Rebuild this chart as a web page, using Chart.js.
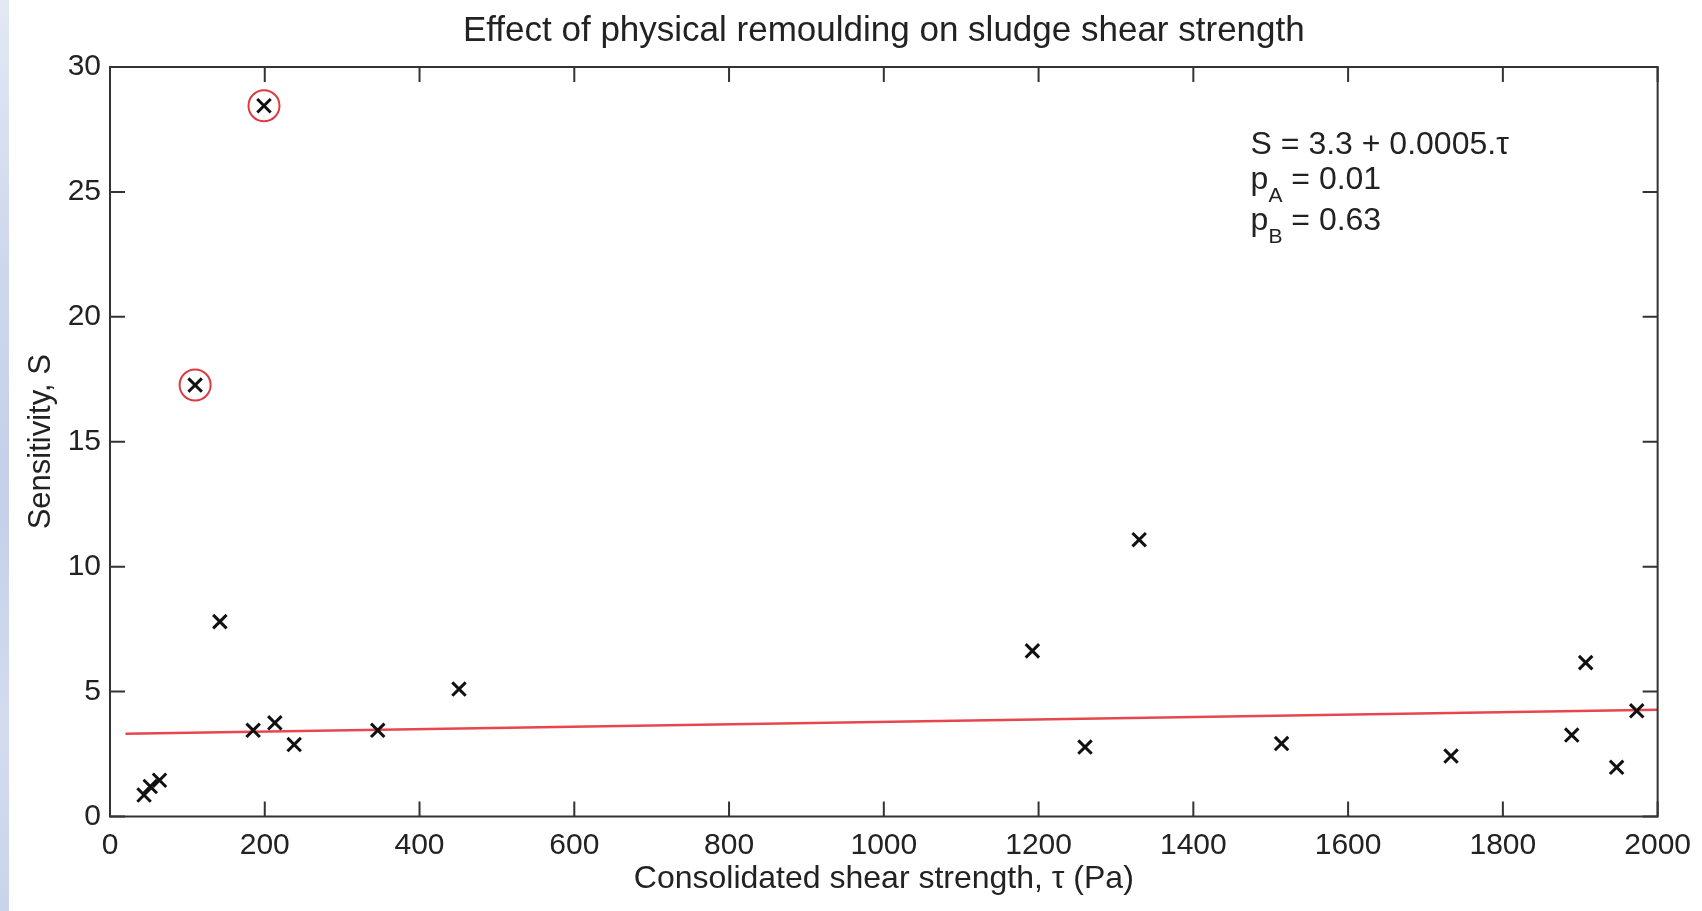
<!DOCTYPE html>
<html>
<head>
<meta charset="utf-8">
<title>Effect of physical remoulding on sludge shear strength</title>
<script src="https://cdn.jsdelivr.net/npm/chart.js@4.4.1/dist/chart.umd.min.js"></script>
<style>
html, body { margin: 0; padding: 0; background: #fff; }
body { width: 1702px; height: 911px; overflow: hidden; position: relative; }
.strip { position: absolute; left: 0; top: 0; width: 9px; height: 911px;
  background: linear-gradient(to bottom, #e2e8f4 0%, #cdd7ec 30%, #c4d0e8 55%, #d3dcef 80%, #c9d4ea 100%); }
.chartBox { position: absolute; left: 0; top: 0; width: 1702px; height: 911px; }
</style>
</head>
<body>
<div class="strip"></div>
<div class="chartBox"><canvas id="GraficoSensibilidade" width="1702" height="911"></canvas></div>
<script>
// pontos medidos (tau em Pa, sensibilidade S)
var tauPontos = [44, 52, 64, 110, 142, 185, 199, 213, 238, 346, 451, 1192, 1260, 1330, 1514, 1733, 1889, 1907, 1947, 1973];
var sensPontos = [0.86, 1.2, 1.45, 17.27, 7.8, 3.45, 28.45, 3.75, 2.88, 3.45, 5.1, 6.63, 2.78, 11.08, 2.92, 2.42, 3.26, 6.16, 1.97, 4.23];

// pontos destacados com circulo vermelho
var tauCirculo = [110, 199];
var sensCirculo = [17.27, 28.45];

var tauReta = [20, 2000];
var sensReta = [3.31, 4.27];

var xMin = 0, xMax = 2000, xPasso = 200;
var yMin = 0, yMax = 30, yPasso = 5;

var titulo = 'Effect of physical remoulding on sludge shear strength';
var textoEquacao = ['S = 3.3 + 0.0005.\u03c4', 'p|A| = 0.01', 'p|B| = 0.63'];

var fonte = '"Liberation Sans", Arial, Helvetica, sans-serif';
var corTexto = '#222';
var corEixo = '#333';

function MontarPontos(xs, ys) {
    var pts = [];
    for (var i = 0; i < xs.length; i++) {
        pts.push({ x: xs[i], y: ys[i] });
    }
    return pts;
}

// titulo centrado na area do grafico (o plugin title centra no canvas todo)
var tituloCentrado = {
    id: 'tituloCentrado',
    afterDraw: function (chart) {
        var ctx = chart.ctx;
        var a = chart.chartArea;
        ctx.save();
        ctx.fillStyle = corTexto;
        ctx.font = '35px ' + fonte;
        ctx.textAlign = 'center';
        ctx.textBaseline = 'middle';
        ctx.fillText(titulo, (a.left + a.right) / 2, a.top - 36);
        ctx.restore();
    }
};

// caixa em volta do grafico com ticks para dentro (estilo matlab)
var caixaEixos = {
    id: 'caixaEixos',
    afterDatasetsDraw: function (chart) {
        var ctx = chart.ctx;
        var a = chart.chartArea;
        var sx = chart.scales.x, sy = chart.scales.y;
        var tam = 15;
        ctx.save();
        ctx.strokeStyle = corEixo;
        ctx.lineWidth = 2;
        ctx.beginPath();
        sx.ticks.forEach(function (t) {
            var px = sx.getPixelForValue(t.value);
            ctx.moveTo(px, a.bottom); ctx.lineTo(px, a.bottom - tam);
            ctx.moveTo(px, a.top); ctx.lineTo(px, a.top + tam);
        });
        sy.ticks.forEach(function (t) {
            var py = sy.getPixelForValue(t.value);
            ctx.moveTo(a.left, py); ctx.lineTo(a.left + tam, py);
            ctx.moveTo(a.right, py); ctx.lineTo(a.right - tam, py);
        });
        ctx.stroke();
        ctx.strokeRect(a.left, a.top, a.right - a.left, a.bottom - a.top);
        ctx.restore();
    }
};

// texto da equacao com subscritos
var textoAjuste = {
    id: 'textoAjuste',
    afterDraw: function (chart) {
        var ctx = chart.ctx;
        var x0 = chart.scales.x.getPixelForValue(1474);
        var y0 = chart.scales.y.getPixelForValue(26.87);
        var passos = [0, 35, 76];
        ctx.save();
        ctx.fillStyle = corTexto;
        ctx.textBaseline = 'middle';
        textoEquacao.forEach(function (linha, i) {
            var y = y0 + passos[i];
            var partes = linha.split('|');
            var x = x0;
            partes.forEach(function (p, j) {
                if (j % 2 == 1) {
                    ctx.font = '21px ' + fonte;
                    ctx.fillText(p, x, y + 16);
                } else {
                    ctx.font = '32px ' + fonte;
                    ctx.fillText(p, x, y);
                }
                x += ctx.measureText(p).width;
            });
        });
        ctx.restore();
    }
};

var ctx = document.getElementById('GraficoSensibilidade').getContext('2d');

var grafico = new Chart(ctx, {
    type: 'scatter',
    data: {
        datasets: [{
            label: 'Medidas',
            data: MontarPontos(tauPontos, sensPontos),
            pointStyle: 'crossRot',
            pointRadius: 9.5,
            pointBorderWidth: 3,
            borderColor: '#111',
            backgroundColor: '#111'
        }, {
            label: 'Destaque',
            data: MontarPontos(tauCirculo, sensCirculo),
            pointStyle: 'circle',
            pointRadius: 15.5,
            pointBorderWidth: 2,
            borderColor: '#dc3a3e',
            backgroundColor: 'rgba(0,0,0,0)'
        }, {
            type: 'line',
            label: 'Ajuste',
            data: MontarPontos(tauReta, sensReta),
            borderColor: '#e6474c',
            borderWidth: 2.5,
            pointRadius: 0,
            fill: false
        }]
    },
    options: {
        responsive: false,
        animation: false,
        events: [],
        layout: { padding: { left: 0, right: 43, top: 67, bottom: 0 } },
        plugins: {
            legend: { display: false },
            tooltip: { enabled: false },
            title: { display: false }
        },
        scales: {
            x: {
                type: 'linear',
                min: xMin,
                max: xMax,
                afterFit: function (scale) { scale.height = 94.5; },
                grid: { display: false, drawTicks: false },
                border: { display: false },
                ticks: {
                    stepSize: xPasso,
                    color: corTexto,
                    padding: 11,
                    maxRotation: 0,
                    font: { family: fonte, size: 30 },
                    callback: function (v) { return String(v); }
                },
                title: {
                    display: true,
                    text: 'Consolidated shear strength, \u03c4 (Pa)',
                    color: corTexto,
                    font: { family: fonte, size: 32, lineHeight: 1.2 },
                    padding: { top: 0, bottom: 13 }
                }
            },
            y: {
                type: 'linear',
                min: yMin,
                max: yMax,
                afterFit: function (scale) { scale.width = 110; },
                grid: { display: false, drawTicks: false },
                border: { display: false },
                ticks: {
                    stepSize: yPasso,
                    color: corTexto,
                    padding: 9,
                    font: { family: fonte, size: 30 },
                    callback: function (v) { return String(v); }
                },
                title: {
                    display: true,
                    text: 'Sensitivity, S',
                    color: corTexto,
                    font: { family: fonte, size: 31, lineHeight: 1.2 },
                    padding: { top: 23, bottom: 0 }
                }
            }
        }
    },
    plugins: [caixaEixos, textoAjuste, tituloCentrado]
});
</script>
</body>
</html>
